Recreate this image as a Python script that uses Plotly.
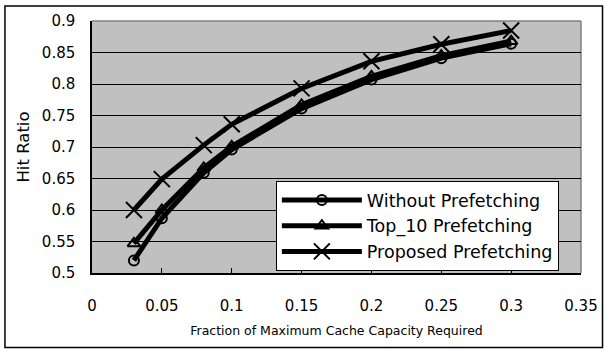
import plotly.graph_objects as go

# Cache size as a fraction of the maximum capacity required
fraction = [0.03, 0.05, 0.08, 0.1, 0.15, 0.2, 0.25, 0.3]

# Hit ratio for each prefetching strategy
without_prefetching = [0.52, 0.587, 0.659, 0.696, 0.761, 0.807, 0.841, 0.864]
top10_prefetching = [0.547, 0.6, 0.667, 0.701, 0.767, 0.812, 0.845, 0.868]
proposed_prefetching = [0.6, 0.649, 0.703, 0.736, 0.793, 0.836, 0.863, 0.885]

series_names = ["Without Prefetching", "Top_10 Prefetching", "Proposed Prefetching"]
x_ticks = [0, 0.05, 0.1, 0.15, 0.2, 0.25, 0.3, 0.35]
x_tick_labels = ["0", "0.05", "0.1", "0.15", "0.2", "0.25", "0.3", "0.35"]
y_ticks = [0.5, 0.55, 0.6, 0.65, 0.7, 0.75, 0.8, 0.85, 0.9]
y_tick_labels = ["0.5", "0.55", "0.6", "0.65", "0.7", "0.75", "0.8", "0.85", "0.9"]

FONT = "DejaVu Sans"

fig = go.Figure()

styles = [
    dict(symbol="circle-open", size=10, line=dict(width=2, color="black")),
    dict(symbol="triangle-up-open", size=11, line=dict(width=2, color="black")),
    dict(symbol="x-thin-open", size=16, line=dict(width=2, color="black")),
]
for name, ys, mk in zip(series_names,
                        [without_prefetching, top10_prefetching, proposed_prefetching],
                        styles):
    fig.add_trace(go.Scatter(
        x=fraction, y=ys, name=name, mode="lines+markers",
        line=dict(color="black", width=5),
        marker=dict(color="black", **mk),
    ))

fig.update_layout(
    width=610, height=350,
    margin=dict(l=92, r=18, t=19, b=77),
    paper_bgcolor="white",
    plot_bgcolor="#C0C0C0",
    font=dict(family=FONT, color="black", size=15),
    showlegend=True,
    legend=dict(
        x=0.376, y=0.365, xanchor="left", yanchor="top",
        bgcolor="white", bordercolor="black", borderwidth=1,
        font=dict(family=FONT, size=17.5, color="black"),
        itemwidth=80, tracegroupgap=0,
        entrywidth=300, entrywidthmode="pixels",
    ),
    xaxis=dict(
        range=[0, 0.35], tickvals=x_ticks, ticktext=x_tick_labels,
        showgrid=False, zeroline=False,
        showline=True, linecolor="black", linewidth=1.5,
        ticks="inside", ticklen=5, tickcolor="black",
        ticklabelstandoff=18,
        tickfont=dict(family=FONT, size=15),
        title=dict(text="Fraction of Maximum Cache Capacity Required",
                   font=dict(family=FONT, size=12.5), standoff=12),
    ),
    yaxis=dict(
        range=[0.5, 0.9], tickvals=y_ticks, ticktext=y_tick_labels,
        showgrid=True, gridcolor="black", gridwidth=1,
        zeroline=False,
        showline=True, linecolor="black", linewidth=1.5,
        ticks="", ticklabelstandoff=12,
        tickfont=dict(family=FONT, size=15),
        title=dict(text="Hit Ratio", font=dict(family=FONT, size=16.5), standoff=8),
    ),
    shapes=[
        # grey frame on the top and right of the plotting area
        dict(type="line", xref="paper", yref="paper", x0=0, x1=1, y0=1, y1=1,
             line=dict(color="#808080", width=1.5), layer="between"),
        dict(type="line", xref="paper", yref="paper", x0=1, x1=1, y0=0, y1=1,
             line=dict(color="#808080", width=1.5), layer="between"),
        # outer chart border
        dict(type="rect", xref="paper", yref="paper",
             x0=(3 - 92) / 500, x1=(614 - 92) / 500,
             y0=(273 - 348) / 254, y1=(273 - 4) / 254,
             line=dict(color="black", width=1.5), fillcolor="rgba(0,0,0,0)",
             layer="below"),
    ],
)

fig.write_html("out.html")
